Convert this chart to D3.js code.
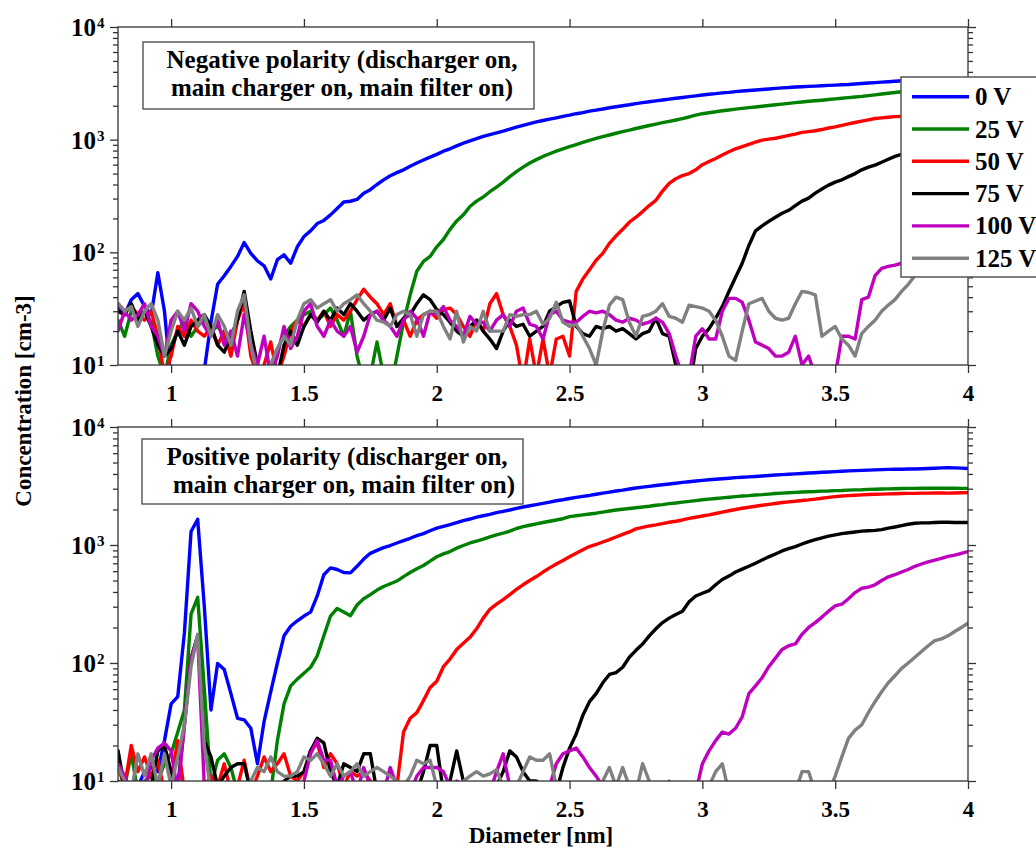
<!DOCTYPE html>
<html><head><meta charset="utf-8">
<script src="https://cdn.jsdelivr.net/npm/d3@7/dist/d3.min.js"></script>
<style>
html,body{margin:0;padding:0;background:#fff;}
svg{display:block;}
text{font-family:"Liberation Serif","DejaVu Serif",serif;font-weight:bold;fill:#000;}
</style></head><body>
<svg id="chart" width="1036" height="850"></svg>
<script>
const diameters = [
0.8,0.825,0.85,0.875,0.9,0.925,0.95,0.975,
1,1.025,1.05,1.075,1.1,1.125,1.15,1.175,
1.2,1.225,1.25,1.275,1.3,1.325,1.35,1.375,
1.4,1.425,1.45,1.475,1.5,1.525,1.55,1.575,
1.6,1.625,1.65,1.675,1.7,1.725,1.75,1.775,
1.8,1.825,1.85,1.875,1.9,1.925,1.95,1.975,
2,2.025,2.05,2.075,2.1,2.125,2.15,2.175,
2.2,2.225,2.25,2.275,2.3,2.325,2.35,2.375,
2.4,2.425,2.45,2.475,2.5,2.525,2.55,2.575,
2.6,2.625,2.65,2.675,2.7,2.725,2.75,2.775,
2.8,2.825,2.85,2.875,2.9,2.925,2.95,2.975,
3,3.025,3.05,3.075,3.1,3.125,3.15,3.175,
3.2,3.225,3.25,3.275,3.3,3.325,3.35,3.375,
3.4,3.425,3.45,3.475,3.5,3.525,3.55,3.575,
3.6,3.625,3.65,3.675,3.7,3.725,3.75,3.775,
3.8,3.825,3.85,3.875,3.9,3.925,3.95,3.975,4];

const seriesLabels = ["0 V","25 V","50 V","75 V","100 V","125 V"];
const seriesColors = ["#0000ff","#008000","#ff0000","#000000","#bf00bf","#808080"];
const xTicks = [1,1.5,2,2.5,3,3.5,4];
const yDecades = [10,100,1000,10000];
const yExponents = ["1","2","3","4"];
const negTitle = ["Negative polarity (discharger on,","main charger on, main filter on)"];
const posTitle = ["Positive polarity (discharger on,","main charger on, main filter on)"];
const xLabel = "Diameter [nm]";
const yLabel = "Concentration [cm-3]";

// Negative polarity panel (concentration, cm-3)
const negV0 = [33,28,38,43,33,28,66,30, 7,5,5,5,5,9,24,52, 62,75,92,122,98,84,76,58, 86,95,80,112,138,155,180,192,
215,245,280,284,295,335,360,400, 440,478,510,540,580,620,660,700, 740,790,830,880,930,975,1020,1070,
1110,1150,1190,1240,1290,1340,1390,1440, 1480,1520,1560,1610,1650,1700,1740,1790, 1830,1870,1920,1960,2000,2040,2090,2130,
2170,2210,2250,2290,2330,2370,2410,2450, 2490,2530,2560,2600,2630,2670,2700,2730, 2760,2790,2820,2850,2880,2900,2930,2950,
2970,2990,3010,3030,3050,3070,3090,3120, 3150,3180,3210,3240,3270,3300,3330,3350, 3370,3390,3400,3420,3430,3440,3450,3460,3470];
const negV25 = [25,18,30,28,30,24,12,8, 15,20,25,18,22,26,20,22, 18,14,25,38,15,8,7,10, 14,18,22,25,28,30,25,28,
32,25,18,30,12,7,8,16, 8,6,12,24,42,68,83,92, 112,130,160,190,215,255,285,310,
345,380,420,470,520,570,620,665, 710,750,790,830,866,905,945,985, 1025,1065,1100,1140,1180,1215,1256,1295,
1335,1375,1415,1455,1495,1540,1590,1650, 1700,1735,1770,1805,1835,1865,1895,1925, 1950,1980,2010,2040,2070,2100,2130,2160,
2190,2215,2240,2270,2300,2330,2360,2390, 2420,2460,2500,2540,2580,2620,2660,2680, 2700,2720,2730,2740,2750,2760,2770,2780,2790];
const negV50 = [35,30,33,28,25,30,18,8, 12,22,18,25,20,18,22,15, 20,12,25,35,12,8,10,16, 8,12,20,25,22,28,25,30,
22,28,25,30,38,47,40,35, 28,35,22,25,18,25,28,30, 26,31,32,28,22,18,25,20,
35,43,28,22,15,7,17,8, 17,8,17,18,12,45,58,70, 85,98,120,140,160,185,205,230,
260,290,350,410,450,480,500,540, 600,640,680,730,780,830,866,910, 950,990,1010,1030,1060,1090,1120,1160,
1180,1200,1230,1270,1300,1340,1380,1420, 1460,1500,1540,1560,1580,1600,1610,1610, 1600,1610,1600,1590,1600,1600,1590,1580,1570];
const negV75 = [30,28,35,25,30,22,15,12, 14,20,15,22,25,28,22,15, 13,18,25,45,20,10,8,10, 8,15,20,15,22,28,24,30,
25,32,28,35,30,25,28,30, 25,32,22,26,28,35,42,38, 31,28,24,20,18,22,25,20,
17,14,20,25,22,23,18,20, 22,30,33,36,37,22,19,18, 22,21,22,20,21,19,17,19,
20,26,19,18,10,7,6,14, 18,21,26,33,45,60,80,115, 155,172,188,205,222,236,260,285,
303,335,365,395,420,440,470,500, 540,570,594,630,670,710,740,770, 800,830,860,880,900,920,935,950,960];
const negV100 = [20,30,25,28,35,22,18,12, 25,30,20,35,30,22,18,25, 15,20,12,28,15,10,18,8, 12,22,14,18,30,35,22,18,
25,20,18,22,13,18,28,30, 25,22,18,25,30,26,18,30, 28,33,25,22,18,27,23,24,
20,25,28,22,30,32,23,22, 17,28,30,25,24,24,27,30, 29,30,28,25,24,26,25,23,
24,26,24,19,12,8,8,18, 21,17,17,30,39,39,36,25, 16,15,14,12,12,13,18,10,
12,8,6,6,8,18,18,17, 38,40,62,72,75,77,80,85, 90,92,95,98,100,103,105,108,110];
const negV125 = [35,30,33,22,30,35,25,12, 20,30,25,32,22,28,18,28, 22,15,30,42,15,8,8,10, 14,18,15,25,35,38,32,35,
38,30,35,38,42,35,30,25, 24,22,28,30,28,18,28,30, 30,22,17,30,16,22,20,30,
20,20,20,28,27,28,28,30, 23,26,36,24,22,23,18,14, 10,20,34,40,38,24,18,27,
28,30,35,27,26,24,34,33, 32,30,25,18,12,11,20,35, 37,39,30,26,25,26,35,45,
44,42,18,20,22,17,15,12, 19,22,25,30,34,38,45,52, 62,75,90,105,120,135,150,160,170];

// Positive polarity panel (concentration, cm-3)
const posV0 = [10,9,8,9,12,13,12,22, 45,52,180,1300,1650,300,40,99, 88,55,34,33,28,14,32,57, 100,170,205,228,250,270,370,560,
640,620,585,580,660,760,850,900, 950,990,1040,1090,1140,1200,1250,1320, 1390,1440,1490,1550,1610,1660,1720,1770,
1820,1880,1930,1980,2040,2100,2150,2200, 2250,2310,2370,2420,2480,2530,2580,2630, 2690,2750,2810,2870,2920,2980,3040,3090,
3140,3190,3240,3290,3340,3390,3440,3490, 3530,3570,3610,3640,3680,3720,3750,3780, 3810,3840,3880,3920,3950,3980,4010,4040,
4070,4100,4130,4160,4190,4220,4250,4270, 4290,4310,4330,4350,4370,4380,4390,4400, 4410,4430,4450,4470,4500,4510,4500,4480,4450];
const posV25 = [18,9,17,8,10,11,10,14, 17,26,40,260,360,60,9,15, 17,13,8,7,8,7,6,8, 22,45,64,73,82,92,115,170,
250,290,270,252,310,350,380,415, 445,470,495,540,585,630,670,730, 795,840,880,940,990,1040,1080,1120,
1170,1220,1260,1310,1380,1430,1470,1510, 1550,1590,1630,1670,1740,1770,1800,1830, 1860,1900,1940,1980,2010,2040,2070,2100,
2130,2170,2200,2240,2270,2310,2340,2380, 2420,2450,2480,2510,2540,2570,2600,2620, 2650,2670,2700,2730,2750,2770,2790,2810,
2830,2840,2860,2870,2890,2900,2920,2930, 2940,2960,2970,2980,2990,3000,3010,3020, 3020,3030,3030,3030,3030,3030,3030,3020,3020];
const posV50 = [13,9,20,12,16,11,15,8, 10,22,8,7,6,9,11,9, 14,8,9,15,8,11,16,12, 14,17,11,10,12,18,21,13,
17,14,9,12,11,12,10,8, 9,8,9,26,34,38,48,62, 70,93,108,130,147,165,195,240,
285,315,345,380,420,460,500,540, 590,640,690,740,794,850,910,970, 1010,1060,1110,1170,1230,1290,1370,1410,
1450,1480,1520,1560,1590,1630,1680,1720, 1760,1800,1850,1900,1950,2000,2050,2090, 2130,2170,2210,2250,2290,2320,2350,2380,
2410,2450,2490,2530,2570,2600,2620,2640, 2660,2680,2690,2700,2710,2720,2730,2740, 2740,2750,2750,2760,2760,2750,2760,2770,2780];
const posV75 = [18,8,9,7,8,9,18,20, 12,9,30,110,170,22,16,9, 11,13,14,14,8,7,8,9, 8,10,11,11,12,18,23,21,
12,9,14,13,12,17,17,8, 7,6,7,8,7,8,12,20, 20,8,10,18,10,7,8,9,
8,9,12,18,16,12,10,10, 9,7,8,13,19,25,36,47, 55,68,80,83,92,112,128,145,
170,195,220,240,258,275,330,370, 390,410,460,510,545,590,625,660, 700,745,794,840,890,930,970,1020,
1070,1110,1150,1190,1220,1250,1270,1290, 1310,1320,1330,1350,1390,1420,1460,1500, 1530,1540,1540,1550,1560,1560,1550,1550,1550];
const posV100 = [14,11,8,7,8,15,19,21, 18,8,30,110,165,9,7,6, 5,5,6,6,7,9,8,9, 8,9,8,9,10,17,22,15,
15,9,11,12,8,13,9,7, 8,13,9,7,8,11,13,13, 13,12,9,10,9,8,7,7,
8,12,17,9,7,6,6,7, 8,9,14,17,18,19,16,13, 11,9,7,6,5,5,5,5,
5,5,5,5,6,6,7,8, 14,18,22,26,25,28,35,55, 64,75,93,110,130,140,145,175,
200,220,245,275,305,315,350,395, 430,440,460,500,537,560,590,620, 660,690,720,745,770,800,820,850,880];
const posV125 = [13,10,8,17,11,17,9,17, 9,16,30,93,175,20,8,7, 8,9,8,9,10,13,12,16, 12,11,11,12,16,15,17,14,
11,14,11,12,14,11,12,13, 12,11,10,9,11,15,14,15, 9,8,9,9,10,11,12,11,
11.5,12.5,9,8,9,12,16,15, 15,17,9,8,7,8,9,7, 8,10,13,9,13,9,8,14,
10,8,9,10,8,7,6,6, 7,9,12,14,8,6,5,5, 5,5,5,5,5,6,8,12,
12,8,6,8,11,16,23,27, 30,38,47,57,68,78,90,100, 112,125,140,155,160,170,185,200,217];

const svg = d3.select("#chart");
svg.append("rect").attr("width",1036).attr("height",850).attr("fill","#fff");

const X0 = 118, X1 = 968;
const x = d3.scaleLinear().domain([0.8,4]).range([X0,X1]);
const minorVals = [];
[10,100,1000].forEach(dec => { for (let m=2;m<=9;m++) minorVals.push(m*dec); });

const panels = [
  {top:27,bottom:365,series:[negV0,negV25,negV50,negV75,negV100,negV125],title:negTitle,
   box:{x:143,y:42,w:391,h:67},tx:[342,342],tb:[68,96]},
  {top:427,bottom:781,series:[posV0,posV25,posV50,posV75,posV100,posV125],title:posTitle,
   box:{x:142,y:439,w:381,h:65},tx:[337,344],tb:[465,493]}
];

const axisColor = "#333";
function styleAxis(sel){
  sel.select(".domain").remove();
  sel.selectAll(".tick line").attr("stroke",axisColor).attr("stroke-width",1.3);
}

panels.forEach((p,pi) => {
  const y = d3.scaleLog().domain([10,10000]).range([p.bottom,p.top]);
  const g = svg.append("g");
  const clipId = "clip"+pi;
  svg.append("clipPath").attr("id",clipId).append("rect")
    .attr("x",X0).attr("y",p.top).attr("width",X1-X0).attr("height",p.bottom-p.top);

  const line = d3.line().x((d,i)=>x(diameters[i])).y(d=>y(d));
  const lines = g.append("g").attr("clip-path",`url(#${clipId})`);
  p.series.forEach((s,k) => {
    lines.append("path").attr("d",line(s)).attr("fill","none")
      .attr("stroke",seriesColors[k]).attr("stroke-width",3.4)
      .attr("stroke-linejoin","round").attr("stroke-linecap","round");
  });

  g.append("g").attr("transform",`translate(0,${p.bottom})`)
    .call(d3.axisBottom(x).tickValues(xTicks).tickSize(8).tickPadding(12).tickSizeOuter(0).tickFormat(d3.format("~g")))
    .call(styleAxis).attr("font-size",23).attr("font-family",null);
  g.append("g").attr("transform",`translate(0,${p.top})`)
    .call(d3.axisTop(x).tickValues(xTicks).tickSize(8).tickSizeOuter(0).tickFormat(""))
    .call(styleAxis);
  g.append("g").attr("transform",`translate(${X0},0)`)
    .call(d3.axisLeft(y).tickValues(yDecades).tickSize(8).tickSizeOuter(0).tickFormat(""))
    .call(styleAxis);
  g.append("g").attr("transform",`translate(${X0},0)`)
    .call(d3.axisLeft(y).tickValues(minorVals).tickSize(5).tickSizeOuter(0).tickFormat(""))
    .call(styleAxis);
  g.append("g").attr("transform",`translate(${X1},0)`)
    .call(d3.axisRight(y).tickValues(yDecades).tickSize(8).tickSizeOuter(0).tickFormat(""))
    .call(styleAxis);
  g.append("g").attr("transform",`translate(${X1},0)`)
    .call(d3.axisRight(y).tickValues(minorVals).tickSize(5).tickSizeOuter(0).tickFormat(""))
    .call(styleAxis);

  g.append("rect").attr("x",X0).attr("y",p.top).attr("width",X1-X0).attr("height",p.bottom-p.top)
    .attr("fill","none").attr("stroke",axisColor).attr("stroke-width",1.3);

  yDecades.forEach((v,j) => {
    g.append("text").attr("x",96).attr("y",y(v)+9).attr("text-anchor","end")
      .attr("font-size",25).text("10");
    g.append("text").attr("x",97).attr("y",y(v)+1).attr("text-anchor","start")
      .attr("font-size",15).text(yExponents[j]);
  });

  g.append("rect").attr("x",p.box.x).attr("y",p.box.y).attr("width",p.box.w).attr("height",p.box.h)
    .attr("fill","#fff").attr("stroke","#444").attr("stroke-width",1.3);
  p.title.forEach((t,j) => {
    g.append("text").attr("x",p.tx[j]).attr("y",p.tb[j]).attr("text-anchor","middle")
      .attr("font-size",25).text(t);
  });

  if (pi === 0) {
    const lg = svg.append("g");
    lg.append("rect").attr("x",901).attr("y",77).attr("width",200).attr("height",200)
      .attr("fill","#fff").attr("stroke","#555").attr("stroke-width",1.5);
    seriesLabels.forEach((lab,k) => {
      const cy = 96.7 + 32.3*k;
      lg.append("line").attr("x1",912).attr("x2",969).attr("y1",cy).attr("y2",cy)
        .attr("stroke",seriesColors[k]).attr("stroke-width",3.4);
      lg.append("text").attr("x",975).attr("y",cy+8.5).attr("font-size",25).text(lab);
    });
  }
});

svg.append("text").attr("x",541).attr("y",843).attr("text-anchor","middle")
  .attr("font-size",23).text(xLabel);
svg.append("text").attr("transform","translate(31,401) rotate(-90)").attr("text-anchor","middle")
  .attr("font-size",23).text(yLabel);
</script>
</body></html>
